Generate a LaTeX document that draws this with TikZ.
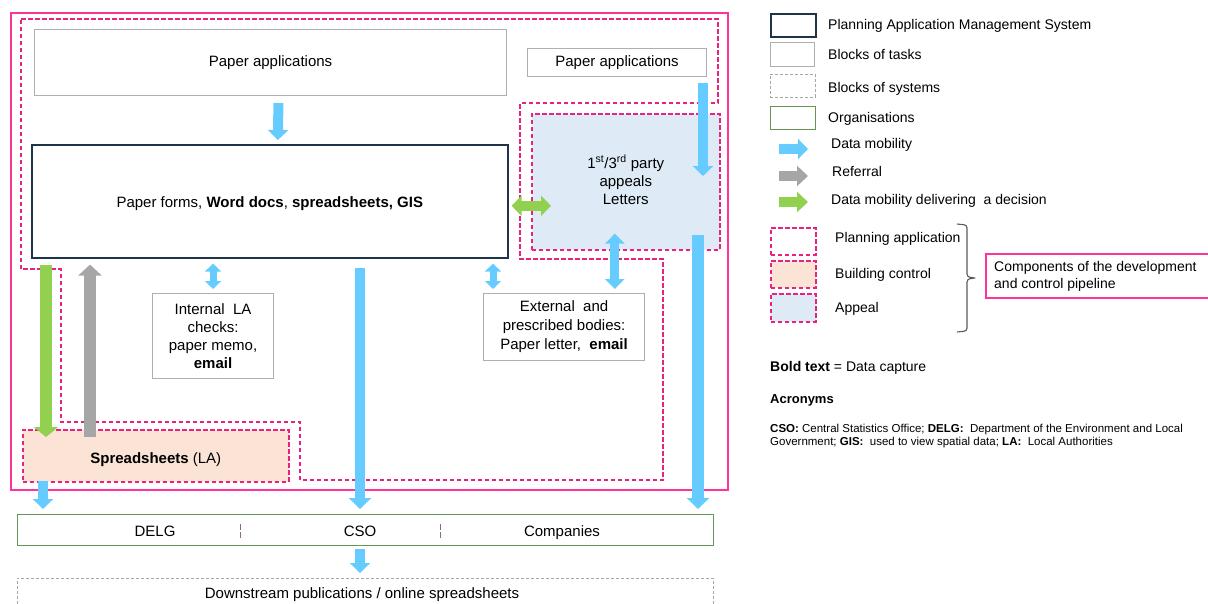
\documentclass[tikz,border=0pt]{standalone}
\usepackage{fontspec}
\setmainfont{Liberation Sans}
\usetikzlibrary{arrows.meta,positioning}
\definecolor{pamsnavy}{RGB}{31,52,73}
\definecolor{taskgray}{RGB}{175,175,175}
\definecolor{orggreen}{RGB}{100,150,85}
\definecolor{outerpink}{RGB}{255,51,153}
\definecolor{dashpink}{RGB}{232,35,127}
\definecolor{datablue}{RGB}{102,204,255}
\definecolor{decgreen}{RGB}{146,208,80}
\definecolor{refgray}{RGB}{166,166,166}
\definecolor{bcpeach}{RGB}{251,228,214}
\definecolor{appblue}{RGB}{222,235,247}
\definecolor{divmauve}{RGB}{140,100,140}
\definecolor{bracegray}{RGB}{90,90,90}

\tikzset{
  pamsbox/.style={draw=pamsnavy, line width=1.6pt, fill=white, inner sep=0pt},
  taskbox/.style={draw=taskgray, line width=1.1pt, fill=white, inner sep=0pt},
  sysbox/.style={draw=gray!70, line width=0.8pt, dash pattern=on 3pt off 2pt, inner sep=0pt},
  orgbox/.style={draw=orggreen, line width=1.1pt, inner sep=0pt},
  stagebox/.style={draw=dashpink, line width=1.6pt, dash pattern=on 4.5pt off 2.5pt, inner sep=0pt},
  datamove/.style={draw=datablue, line width=10pt, -{Triangle[width=20pt,length=10pt]}},
  datalong/.style={draw=datablue, line width=12pt, -{Triangle[width=22pt,length=11pt]}},
  datasmall/.style={draw=datablue, line width=7pt, {Triangle[width=16pt,length=8pt]}-{Triangle[width=16pt,length=8pt]}},
  datatwo/.style={draw=datablue, line width=9pt, {Triangle[width=19pt,length=10pt]}-{Triangle[width=19pt,length=10pt]}},
  decision/.style={draw=decgreen, line width=12pt, -{Triangle[width=24pt,length=10pt]}},
  decisiontwo/.style={draw=decgreen, line width=9.5pt, {Triangle[width=20pt,length=10pt]}-{Triangle[width=20pt,length=10pt]}},
  referral/.style={draw=refgray, line width=12pt, -{Triangle[width=23pt,length=11pt]}},
  lgtext/.style={font=\fontsize{14}{17}\selectfont, inner sep=0pt, anchor=base west},
}

\begin{document}
\begin{tikzpicture}[x=1pt,y=-1pt,font=\fontsize{15}{18}\selectfont]
\useasboundingbox (0,0) rectangle (1208,603);

% Pipeline regions
\draw[outerpink, line width=1.8pt] (11,13) rectangle (728,490);
\draw[stagebox] (21,19) -- (718,19) -- (718,103) -- (520,103) -- (520,259) -- (663,259)
  -- (663,480) -- (300,480) -- (300,422) -- (61,422) -- (61,269) -- (21,269) -- cycle;
\node[stagebox, fill=appblue, minimum width=188, minimum height=136, anchor=north west] (appeal) at (531,113) {};
\node[align=center, yshift=2pt] (appealtxt) at (appeal.center)
  {1\textsuperscript{st}/3\textsuperscript{rd} party\\appeals\\Letters};
\node[stagebox, fill=bcpeach, minimum width=266, minimum height=52, anchor=north west, text height=19pt] (spread) at (22,429)
  {\textbf{Spreadsheets} (LA)};

% Task blocks
\node[taskbox, minimum width=472, minimum height=66, anchor=north west] (paperA) at (34,29) {Paper applications};
\node[taskbox, minimum width=179, minimum height=28, anchor=north west] (paperB) at (527,48) {Paper applications};
\node[pamsbox, minimum width=476, minimum height=113, anchor=north west, text height=15pt] (pams) at (31,144)
  {Paper forms, \textbf{Word docs}, \textbf{spreadsheets, GIS}};
\node[taskbox, minimum width=121, minimum height=85, anchor=north west, align=center] (intcheck) at (152,293)
  {Internal\ \ LA\\checks:\\paper memo,\\\textbf{email}};
\node[taskbox, minimum width=161, minimum height=67, anchor=north west, align=center,
  font=\fontsize{15}{19}\selectfont] (extcheck) at (483,293)
  {External\ \ and\\prescribed bodies:\\Paper letter,\ \ \textbf{email}};

% Organisations and downstream
\node[orgbox, minimum width=696, minimum height=31, anchor=north west] (org) at (17,514) {};
\node[anchor=base] (delg) at (155,536) {DELG};
\node[anchor=base] (cso) at (360,536) {CSO};
\node[anchor=base] (comp) at (562,536) {Companies};
\draw[divmauve, line width=1pt, dash pattern=on 6pt off 2pt] (240,524) -- (240,538);
\draw[divmauve, line width=1pt, dash pattern=on 6pt off 2pt] (440,524) -- (440,538);
\node[sysbox, minimum width=696, minimum height=30, anchor=north west] (down) at (17,578) {};
\node[anchor=base] (downlab) at (362,598) {Downstream publications / online spreadsheets};

% Data flows
\coordinate (appin) at (703,176);
\coordinate (appout) at (698,235);
\coordinate (extin) at ([xshift=10pt]extcheck.north west);
\coordinate (decin) at ([xshift=24pt]spread.north west);
\coordinate (refout) at ([xshift=68pt]spread.north west);
\coordinate (bcout) at ([xshift=21pt]spread.south west);
\coordinate (appdec) at ([yshift=-4.5pt]pams.east);
\draw[datamove, shorten <=7pt, shorten >=4pt] ([xshift=8pt]paperA.south) -- ([xshift=8pt]pams.north);
\draw[datamove, shorten <=6pt] (paperB.south -| appin) -- (appin);
\draw[decisiontwo, shorten <=3pt, shorten >=-20pt] (appdec) -- (appdec -| appeal.west);
\draw[datasmall, shorten <=5pt, shorten >=4pt] (pams.south -| intcheck.north) -- (intcheck.north);
\draw[datasmall, shorten <=5pt, shorten >=4pt] (pams.south -| extin) -- (extin);
\draw[datatwo, shorten <=-17pt, shorten >=4pt] ([xshift=-11pt]appeal.south) -- ([xshift=-11pt]appeal.south |- extcheck.north);
\draw[datalong, shorten >=5pt] (appout) -- (appout |- org.north);
\draw[decision, shorten <=6pt, shorten >=-8pt] (pams.south -| decin) -- (decin);
\draw[referral, shorten <=-8pt, shorten >=6pt] (refout) -- (pams.south -| refout);
\draw[datamove, line width=10pt, shorten <=9pt, shorten >=5pt, -{Triangle[width=22pt,length=11pt]}] (pams.south -| cso) -- (org.north -| cso);
\draw[datamove, shorten <=-2pt, shorten >=5pt] (bcout) -- (org.north -| bcout);
\draw[datamove, shorten <=3pt, shorten >=5pt] (org.south -| cso) -- (down.north -| cso);

% Legend
\node[pamsbox, minimum width=45, minimum height=23, anchor=north west] (lgpams) at (770,13) {};
\node[taskbox, minimum width=44, minimum height=24, anchor=north west] (lgtask) at (770,42) {};
\node[sysbox, minimum width=45, minimum height=23, anchor=north west] (lgsys) at (770,74) {};
\node[orgbox, minimum width=45, minimum height=23, anchor=north west] (lgorg) at (770,106) {};
\node[lgtext] (lgpamst) at (828,29) {Planning Application Management System};
\node[lgtext] (lgtaskt) at (828,59) {Blocks of tasks};
\node[lgtext] (lgsyst) at (828,92) {Blocks of systems};
\node[lgtext] (lgorgt) at (828,122) {Organisations};
\coordinate (lga1) at (779,149);
\coordinate (lga2) at (779,176);
\coordinate (lga3) at (779,202);
\draw[datamove] (lga1) -- ++(29,0);
\draw[draw=refgray, line width=10pt, -{Triangle[width=20pt,length=11pt]}] (lga2) -- ++(29,0);
\draw[draw=decgreen, line width=10pt, -{Triangle[width=20pt,length=11pt]}] (lga3) -- ++(29,0);
\node[lgtext] (lgdata) at (831,148) {Data mobility};
\node[lgtext] (lgref) at (832,176) {Referral};
\node[lgtext] (lgdec) at (831,204) {Data mobility delivering\ \ a decision};
\node[stagebox, minimum width=45, minimum height=27, anchor=north west] (lgplan) at (770,227) {};
\node[stagebox, fill=bcpeach, minimum width=45, minimum height=27, anchor=north west] (lgbc) at (770,260) {};
\node[stagebox, fill=appblue, minimum width=45, minimum height=28, anchor=north west] (lgapp) at (770,293) {};
\node[lgtext] (lgplant) at (835,242) {Planning application};
\node[lgtext] (lgbct) at (835,278) {Building control};
\node[lgtext] (lgappt) at (835,312) {Appeal};
% Bracket grouping the three stages
\draw[bracegray, line width=1.1pt, rounded corners=3pt] (957,224) -- (967,225) -- (967,277) -- (976,278)
  -- (967,279) -- (967,331) -- (957,332);
\node[draw=outerpink, line width=1.6pt, minimum width=230, minimum height=44, anchor=north west] (pipe) at (985,253) {};
\node[lgtext] (pipet1) at (994,271) {Components of the development};
\node[lgtext] (pipet2) at (994,288) {and control pipeline};
\node[lgtext] (boldnote) at (770,371) {\textbf{Bold text} = Data capture};
\node[lgtext, font=\fontsize{13}{16}\selectfont\bfseries] (acro) at (770,403) {Acronyms};
\node[lgtext, font=\fontsize{11.5}{13}\selectfont] (acro1) at (770,432)
  {\textbf{CSO:} Central Statistics Office; \textbf{DELG:}\ \ Department of the Environment and Local};
\node[lgtext, font=\fontsize{11.5}{13}\selectfont] (acro2) at (770,445)
  {Government; \textbf{GIS:}\ \ used to view spatial data; \textbf{LA:}\ \ Local Authorities};
\end{tikzpicture}
\end{document}
